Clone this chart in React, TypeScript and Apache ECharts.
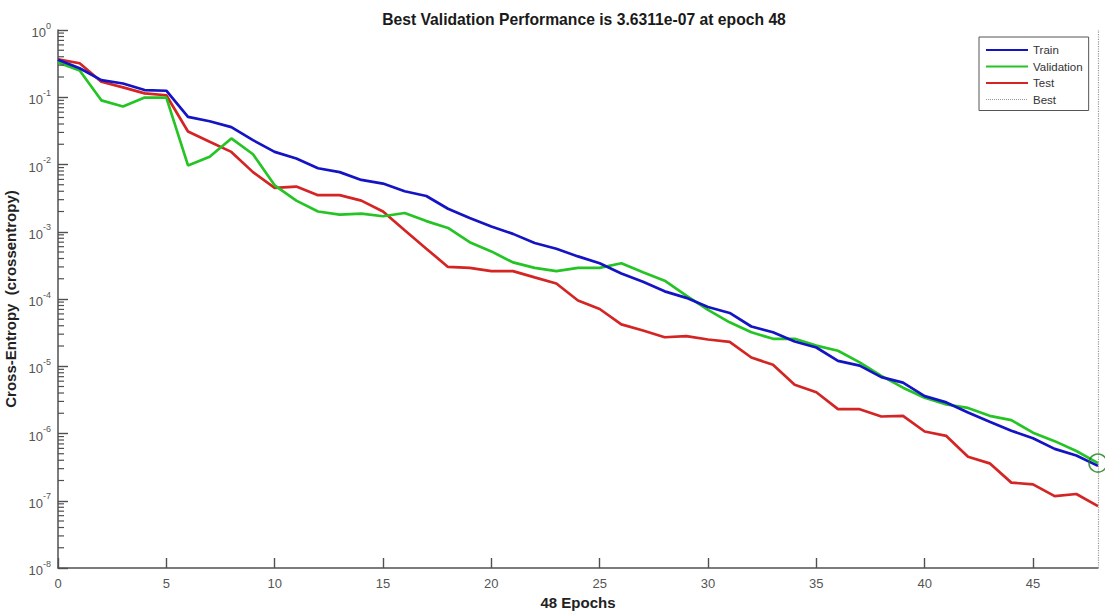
import React, { useEffect, useRef } from "react";
import * as echarts from "echarts";

const epochs = [0,1,2,3,4,5,6,7,8,9,10,11,12,13,14,15,16,17,18,19,20,21,22,23,24,25,26,27,28,29,30,31,32,33,34,35,36,37,38,39,40,41,42,43,44,45,46,47,48];

const trainValues = [0.36,0.27,0.18,0.16,0.128,0.125,0.051,0.044,0.036,0.023,0.0154,0.0123,0.0088,0.0077,0.0059,0.0052,0.0040,0.0034,0.0022,0.0016,0.0012,0.00093,0.00068,0.00056,0.00043,0.00034,0.00024,0.00018,0.00013,0.000104,0.000076,0.000062,0.000039,0.000032,0.0000233,0.000019,0.000012,0.0000102,6.9e-6,5.7e-6,3.6e-6,2.9e-6,2.05e-6,1.5e-6,1.1e-6,8.5e-7,5.9e-7,4.7e-7,3.3e-7];

const validationValues = [0.33,0.25,0.09,0.073,0.099,0.099,0.0097,0.0130,0.0244,0.0142,0.0049,0.0029,0.0020,0.0018,0.00186,0.0017,0.0019,0.00144,0.00114,0.00070,0.00051,0.00035,0.00029,0.00026,0.00029,0.00029,0.00034,0.00025,0.000187,0.000112,0.000069,0.000045,0.000032,0.0000256,0.0000256,0.0000203,0.0000170,0.0000114,7.2e-6,4.8e-6,3.4e-6,2.7e-6,2.4e-6,1.83e-6,1.58e-6,1.03e-6,7.7e-7,5.5e-7,3.6311e-7];

const testValues = [0.366,0.32,0.17,0.14,0.114,0.107,0.031,0.0218,0.0154,0.0077,0.0045,0.0047,0.0035,0.0035,0.0029,0.0020,0.00105,0.00056,0.00030,0.00029,0.00026,0.00026,0.00021,0.00017,0.000095,0.000071,0.000042,0.000034,0.000027,0.000028,0.000025,0.000023,0.0000135,0.0000105,5.3e-6,4.1e-6,2.3e-6,2.3e-6,1.79e-6,1.83e-6,1.07e-6,9.2e-7,4.5e-7,3.6e-7,1.86e-7,1.75e-7,1.17e-7,1.26e-7,8.3e-8];

const bestEpoch = 48;
const bestValue = 3.6311e-7;

const decadeExponents = [-8, -7, -6, -5, -4, -3, -2, -1];
const minorTickMultipliers = [2, 3, 4, 5, 6, 7, 8, 9];

const titleText = "Best Validation Performance is 3.6311e-07 at epoch 48";
const xAxisName = "48 Epochs";
const yAxisName = "Cross-Entropy  (crossentropy)";

const FONT = "'Liberation Sans', Arial, Helvetica, sans-serif";
const AXIS_COLOR = "#505050";
const HIDDEN = { color: "rgba(0,0,0,0)", borderColor: "rgba(0,0,0,0)", borderWidth: 0, opacity: 0 };

export default function App() {
  const ref = useRef<HTMLDivElement>(null);

  useEffect(() => {
    document.body.style.margin = "0";
    if (!ref.current) return;
    const chart = echarts.init(ref.current, undefined, { renderer: "svg" });

    const pair = (vals: number[]) => epochs.map((e, i) => [e, vals[i]]);
    const minorTicks: number[][] = [];
    decadeExponents.forEach((d) => {
      minorTickMultipliers.forEach((m) => minorTicks.push([0, m * Math.pow(10, d)]));
    });

    const option: any = {
      animation: false,
      backgroundColor: "#ffffff",
      title: {
        text: titleText,
        left: 579,
        textAlign: "center",
        top: 6,
        textStyle: { fontFamily: FONT, fontSize: 15.7, fontWeight: "bold", color: "#1a1a1a" },
      },
      grid: { left: 58, right: 7, top: 30, bottom: 48, containLabel: false, outerBoundsMode: "none" },
      legend: {
        orient: "vertical",
        left: 979,
        top: 37,
        padding: [7, 6, 5, 6],
        itemWidth: 42,
        itemHeight: 12,
        itemGap: 4.5,
        borderColor: "#555",
        borderWidth: 1,
        backgroundColor: "#fff",
        itemStyle: HIDDEN,
        textStyle: { fontFamily: FONT, fontSize: 11.5, color: "#333" },
        data: [
          { name: "Train", itemStyle: HIDDEN },
          { name: "Validation", itemStyle: HIDDEN },
          { name: "Test", itemStyle: HIDDEN },
          { name: "Best", itemStyle: HIDDEN, lineStyle: { type: "dotted", color: "#999", width: 1 } },
        ],
      },
      xAxis: {
        type: "value",
        min: 0,
        max: 48,
        interval: 5,
        name: xAxisName,
        nameLocation: "middle",
        nameGap: 27,
        nameTextStyle: { fontFamily: FONT, fontSize: 15, fontWeight: "bold", color: "#222" },
        axisLine: { show: true, lineStyle: { color: AXIS_COLOR, width: 1.5 } },
        axisTick: { show: true, inside: true, length: 10, lineStyle: { color: AXIS_COLOR, width: 1.4 } },
        axisLabel: { fontFamily: FONT, fontSize: 13, color: "#555", margin: 9, showMaxLabel: false },
        splitLine: { show: false },
      },
      yAxis: {
        type: "log",
        logBase: 10,
        min: 1e-8,
        max: 1,
        splitNumber: 8,
        name: yAxisName,
        nameLocation: "middle",
        nameGap: 35,
        nameTextStyle: { fontFamily: FONT, fontSize: 15, fontWeight: "bold", color: "#222" },
        axisLine: { show: true, lineStyle: { color: AXIS_COLOR, width: 1.5 } },
        axisTick: { show: true, inside: true, length: 10, lineStyle: { color: AXIS_COLOR, width: 1.4 } },
        axisLabel: {
          margin: 7,
          formatter: (v: number) => `{b|10}{s|${Math.round(Math.log10(v))}}`,
          rich: {
            b: { fontFamily: FONT, fontSize: 13, color: "#555", lineHeight: 18, verticalAlign: "bottom" },
            s: { fontFamily: FONT, fontSize: 9, color: "#555", lineHeight: 18, verticalAlign: "top" },
          },
        },
        splitLine: { show: false },
      },
      series: [
        {
          name: "Minor",
          type: "custom",
          coordinateSystem: "cartesian2d",
          silent: true,
          clip: false,
          data: minorTicks,
          encode: { x: 0, y: 1 },
          z: 10,
          renderItem: (params: any, api: any) => {
            const p = api.coord([api.value(0), api.value(1)]);
            return {
              type: "rect",
              shape: { x: p[0], y: p[1] - 0.6, width: 6, height: 1.2 },
              style: { fill: AXIS_COLOR },
            };
          },
        },
        {
          name: "Train",
          type: "line",
          data: pair(trainValues),
          symbol: "none",
          color: "#1414c4",
          lineStyle: { width: 2.7, color: "#1414c4" },
          z: 4,
        },
        {
          name: "Validation",
          type: "line",
          data: pair(validationValues),
          symbol: "none",
          color: "#25c425",
          lineStyle: { width: 2.7, color: "#25c425" },
          z: 3,
        },
        {
          name: "Test",
          type: "line",
          data: pair(testValues),
          symbol: "none",
          color: "#d42424",
          lineStyle: { width: 2.7, color: "#d42424" },
          z: 2,
        },
        {
          name: "Best",
          type: "line",
          data: [],
          symbol: "none",
          color: "#999",
          lineStyle: { type: "dotted", color: "#999", width: 1 },
          markLine: {
            silent: true,
            symbol: "none",
            label: { show: false },
            lineStyle: { type: "dotted", color: "#999", width: 1.2 },
            data: [{ yAxis: bestValue }, { xAxis: bestEpoch }],
          },
        },
        {
          name: "BestPoint",
          type: "scatter",
          data: [[bestEpoch, bestValue]],
          symbol: "circle",
          symbolSize: 18,
          clip: false,
          itemStyle: { color: "rgba(0,0,0,0)", borderColor: "#1d7d1d", borderWidth: 1.6 },
          z: 6,
        },
      ],
    };

    chart.setOption(option);
    return () => chart.dispose();
  }, []);

  return <div ref={ref} style={{ width: 1105, height: 616 }} />;
}
